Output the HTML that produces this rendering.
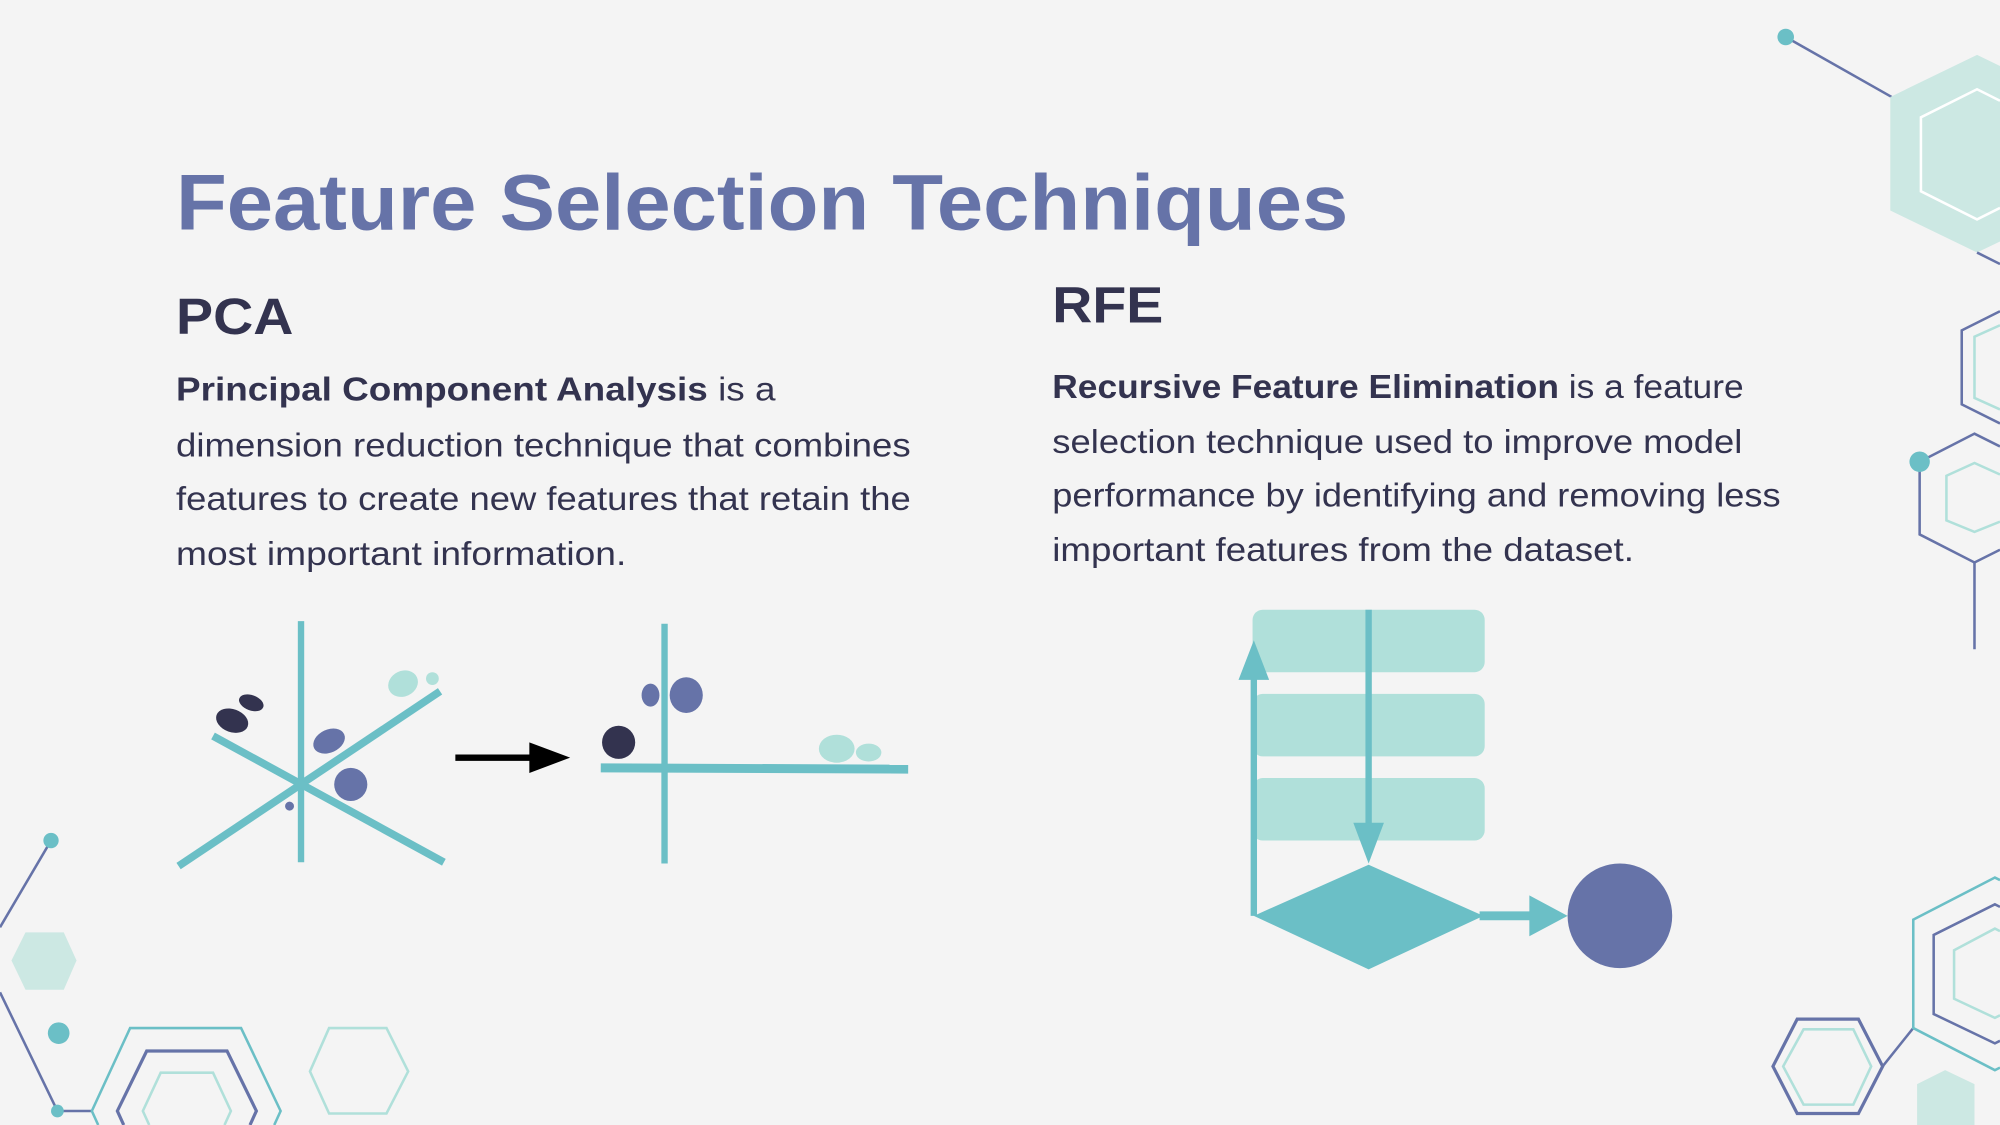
<!DOCTYPE html>
<html><head><meta charset="utf-8"><style>
html,body{margin:0;padding:0;background:#f4f4f4;width:2000px;height:1125px;overflow:hidden;}
svg{display:block;}
text{font-family:"Liberation Sans",sans-serif;}
</style></head><body>
<svg width="2000" height="1125" viewBox="0 0 1568 882" preserveAspectRatio="none" xmlns="http://www.w3.org/2000/svg">
<rect width="1568" height="882" fill="#f4f4f4"/>

<text x="138" y="180" font-size="62" font-weight="bold" fill="#6673a8" textLength="919" lengthAdjust="spacingAndGlyphs">Feature Selection Techniques</text>
<text x="138" y="262" font-size="40" font-weight="bold" fill="#33334f" textLength="92" lengthAdjust="spacingAndGlyphs">PCA</text>
<text x="825" y="253" font-size="40" font-weight="bold" fill="#33334f" textLength="87" lengthAdjust="spacingAndGlyphs">RFE</text>

<g font-size="26" fill="#33334f">
<text x="138" y="314" textLength="470" lengthAdjust="spacingAndGlyphs"><tspan font-weight="bold">Principal Component Analysis</tspan> is a</text>
<text x="138" y="358" textLength="576" lengthAdjust="spacingAndGlyphs">dimension reduction technique that combines</text>
<text x="138" y="400" textLength="576" lengthAdjust="spacingAndGlyphs">features to create new features that retain the</text>
<text x="138" y="443" textLength="353" lengthAdjust="spacingAndGlyphs">most important information.</text>
<text x="825" y="312" textLength="542" lengthAdjust="spacingAndGlyphs"><tspan font-weight="bold">Recursive Feature Elimination</tspan> is a feature</text>
<text x="825" y="355" textLength="541" lengthAdjust="spacingAndGlyphs">selection technique used to improve model</text>
<text x="825" y="397" textLength="571" lengthAdjust="spacingAndGlyphs">performance by identifying and removing less</text>
<text x="825" y="440" textLength="456" lengthAdjust="spacingAndGlyphs">important features from the dataset.</text>
</g>

<g stroke="#6bbfc6" stroke-width="5">
<line x1="236" y1="487" x2="236" y2="676"/>
<line x1="140" y1="679" x2="345" y2="542" stroke-width="6"/>
<line x1="167" y1="577" x2="348" y2="676" stroke-width="6"/>
</g>
<ellipse cx="182" cy="565" rx="13" ry="9" transform="rotate(20 182 565)" fill="#33334f"/>
<ellipse cx="197" cy="551" rx="10" ry="6" transform="rotate(20 197 551)" fill="#33334f"/>
<ellipse cx="258" cy="581" rx="13" ry="9" transform="rotate(-25 258 581)" fill="#6673a8"/>
<circle cx="275" cy="615" r="13" fill="#6673a8"/>
<circle cx="227" cy="632" r="3.5" fill="#6673a8"/>
<ellipse cx="316" cy="536" rx="12" ry="10" transform="rotate(-25 316 536)" fill="#b0e0da"/>
<circle cx="339" cy="532" r="5" fill="#b0e0da"/>

<line x1="357" y1="594" x2="420" y2="594" stroke="#000" stroke-width="5"/>
<polygon points="415,582 447,594 415,606" fill="#000"/>

<line x1="521" y1="489" x2="521" y2="677" stroke="#6bbfc6" stroke-width="5"/>
<line x1="471" y1="602" x2="712" y2="603" stroke="#6bbfc6" stroke-width="7"/>
<circle cx="485" cy="582" r="13" fill="#33334f"/>
<ellipse cx="510" cy="545" rx="7" ry="9" fill="#6673a8"/>
<ellipse cx="538" cy="545" rx="13" ry="14" fill="#6673a8"/>
<ellipse cx="656" cy="587" rx="14" ry="11" fill="#b0e0da"/>
<ellipse cx="681" cy="590" rx="10" ry="7" fill="#b0e0da"/>

<g fill="#b0e0da">
<rect x="982" y="478" width="182" height="49" rx="8"/>
<rect x="982" y="544" width="182" height="49" rx="8"/>
<rect x="982" y="610" width="182" height="49" rx="8"/>
</g>
<line x1="1073" y1="478" x2="1073" y2="650" stroke="#6bbfc6" stroke-width="5"/>
<polygon points="1061,645 1085,645 1073,677" fill="#6bbfc6"/>
<line x1="983" y1="718" x2="983" y2="530" stroke="#6bbfc6" stroke-width="5"/>
<polygon points="971,533 995,533 983,502" fill="#6bbfc6"/>
<polygon points="983,718 1073,678 1163,718 1073,760" fill="#6bbfc6"/>
<line x1="1160" y1="718" x2="1205" y2="718" stroke="#6bbfc6" stroke-width="7"/>
<polygon points="1199,702 1229,718 1199,734" fill="#6bbfc6"/>
<circle cx="1270" cy="718" r="41" fill="#6673a8"/>

<line x1="1400" y1="29" x2="1483" y2="76" stroke="#6673a8" stroke-width="2"/>
<circle cx="1400" cy="29" r="6.5" fill="#6bbfc6"/>
<polygon points="1482,76 1550,43 1568,51.7 1568,189.3 1550,198 1482,165" fill="#cce8e3"/>
<polyline points="1568,79 1550,70 1506,92 1506,150 1550,172 1568,163" fill="none" stroke="#fff" stroke-width="2"/>
<line x1="1550" y1="198" x2="1568" y2="207" stroke="#6673a8" stroke-width="2"/>
<polyline points="1568,244 1538,259 1538,317 1568,332" fill="none" stroke="#6673a8" stroke-width="2"/>
<polyline points="1568,255 1548,264 1548,312 1568,321" fill="none" stroke="#b0e0da" stroke-width="2"/>
<polyline points="1568,350 1548,340 1505,362 1505,419 1548,441 1568,431" fill="none" stroke="#6673a8" stroke-width="2"/>
<polyline points="1568,372 1548,363 1526,373 1526,408 1548,417 1568,409" fill="none" stroke="#b0e0da" stroke-width="2"/>
<line x1="1548" y1="441" x2="1548" y2="509" stroke="#6673a8" stroke-width="2"/>
<circle cx="1505" cy="362" r="8" fill="#6bbfc6"/>

<line x1="40" y1="659" x2="0" y2="727" stroke="#6673a8" stroke-width="2"/>
<circle cx="40" cy="659" r="6" fill="#6bbfc6"/>
<polygon points="9,753 20,731 50,731 60,753 50,776 20,776" fill="#cce8e3"/>
<circle cx="46" cy="810" r="8.5" fill="#6bbfc6"/>
<line x1="0" y1="778" x2="45" y2="871" stroke="#6673a8" stroke-width="2"/>
<line x1="45" y1="871" x2="72" y2="871" stroke="#6673a8" stroke-width="2"/>
<circle cx="45" cy="871" r="5" fill="#6bbfc6"/>
<polyline points="77,882 72,871 102,806 189,806 220,871 215,882" fill="none" stroke="#6bbfc6" stroke-width="2"/>
<polyline points="97,882 92,871 115,824 178,824 201,871 196,882" fill="none" stroke="#6673a8" stroke-width="2.5"/>
<polyline points="117,882 112,871 126,841 167,841 181,871 176,882" fill="none" stroke="#b0e0da" stroke-width="2"/>
<polygon points="243,840 258,806 303,806 320,840 303,873 258,873" fill="none" stroke="#b0e0da" stroke-width="2"/>

<polygon points="1390,836 1409,799 1457,799 1476,836 1457,873 1409,873" fill="none" stroke="#6673a8" stroke-width="2.5"/>
<polygon points="1398,836 1414,807 1453,807 1467,836 1453,866 1414,866" fill="none" stroke="#b0e0da" stroke-width="2"/>
<line x1="1476" y1="836" x2="1500" y2="806" stroke="#6673a8" stroke-width="2"/>
<polyline points="1568,690 1564,688 1500,721 1500,806 1564,839 1568,837" fill="none" stroke="#6bbfc6" stroke-width="2"/>
<polyline points="1568,711 1564,709 1516,733 1516,795 1564,818 1568,816" fill="none" stroke="#6673a8" stroke-width="2"/>
<polyline points="1568,730 1564,728 1532,745 1532,783 1564,798 1568,796" fill="none" stroke="#b0e0da" stroke-width="2"/>
<polygon points="1503,850 1525,839 1548,850 1548,882 1503,882" fill="#cce8e3"/>
</svg>
</body></html>
